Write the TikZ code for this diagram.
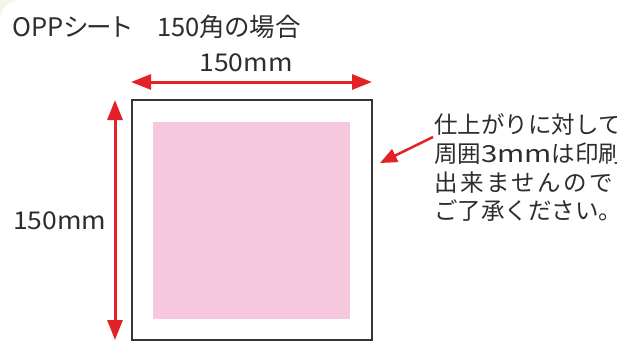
\documentclass[tikz,border=0pt]{standalone}
\usepackage{fontspec}
\setmainfont{Noto Sans CJK JP}
\newfontfamily\titlefont[RawFeature=+palt]{Noto Sans CJK JP}
\newfontfamily\widelat[FakeStretch=1.08]{Noto Sans CJK JP}
\newfontfamily\widerlat[FakeStretch=1.25]{Noto Sans CJK JP}
\newfontfamily\spacedfont[LetterSpace=11]{Noto Sans CJK JP}
\usetikzlibrary{arrows.meta}
\definecolor{arrred}{RGB}{226,34,38}
\definecolor{pinkfill}{RGB}{245,200,222}
\definecolor{cream}{RGB}{246,244,234}
\definecolor{txt}{RGB}{45,45,45}
\definecolor{frame}{RGB}{55,55,55}
\begin{document}
\begin{tikzpicture}[x=1pt,y=-1pt,
  bigarrow/.style={draw=arrred, line width=3pt, {Triangle[length=20pt,width=15pt]}-{Triangle[length=20pt,width=15pt]}},
  smallarrow/.style={draw=arrred, line width=2.5pt, -{Triangle[length=17pt,width=14pt]}},
  lbl/.style={inner sep=0pt, text=txt, font=\fontsize{23.5}{28}\selectfont},
  dimlbl/.style={inner sep=0pt, text=txt, font=\widelat\fontsize{24.5}{28}\selectfont},
  titlelbl/.style={inner sep=0pt, text=txt, font=\titlefont\fontsize{25.5}{30}\selectfont},
  sheetbox/.style={draw=frame, line width=2pt, fill=white},
  printarea/.style={fill=pinkfill, inner sep=0pt},
]
\useasboundingbox (0,0) rectangle (617,343);
\fill[cream] (0,0) rectangle (40,40);
\fill[white, rounded corners=20pt] (0,0) rectangle (680,400);
% title
\node[titlelbl, anchor=base west] (title) at (12,36) {OPPシート　150角の場合};
% sheet and print area
\node[sheetbox, minimum width=240.5pt, minimum height=239.5pt] (sheet) at (251.75,219.75) {};
\node[printarea, minimum width=197pt, minimum height=197pt] (print) at (251.5,220.5) {};
% horizontal dimension
\coordinate (hL) at (131,82);
\coordinate (hR) at (372,82);
\draw[bigarrow] (hL) -- (hR);
\node[dimlbl, anchor=base] (wlabel) at (246,71) {150mm};
% vertical dimension
\coordinate (vT) at (115,100);
\coordinate (vB) at (115,340);
\draw[bigarrow] (vT) -- (vB);
\node[dimlbl, anchor=base west] (hlabel) at (13,229) {150mm};
% note
\node[lbl, anchor=base west] (n1) at (434,133) {仕上がりに対して};
\node[lbl, anchor=base west] (n2) at (434,162) {周囲{\widerlat 3mm}は印刷};
\node[lbl, anchor=base west, font=\spacedfont\fontsize{23.5}{28}\selectfont] (n3) at (434,191) {出来ませんので};
\node[lbl, anchor=base west] (n4) at (434,219) {ご了承ください。};
\coordinate (aS) at (433,137);
\coordinate (aE) at (380,163);
\draw[smallarrow] (aS) -- (aE);
\end{tikzpicture}
\end{document}
